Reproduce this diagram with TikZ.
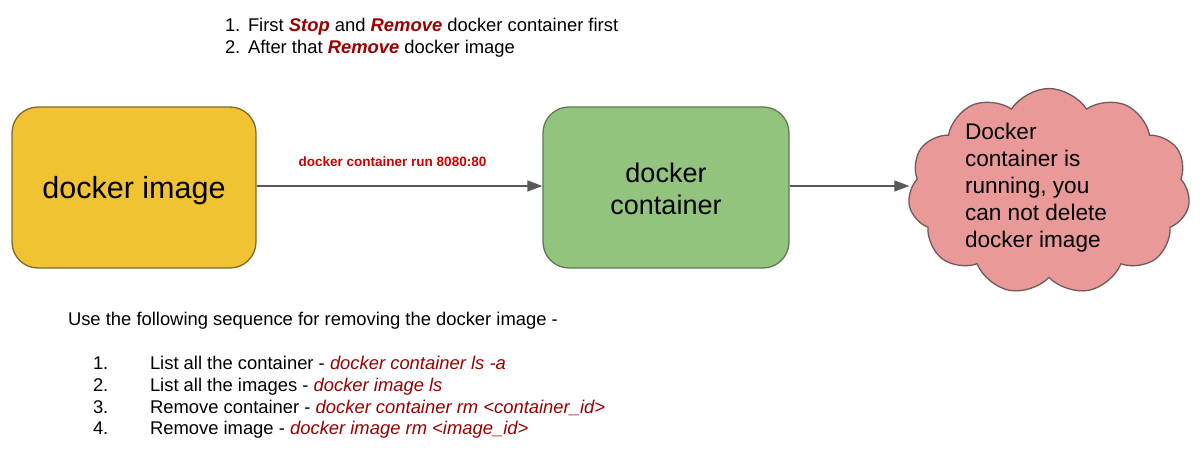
\documentclass[tikz,border=0pt]{standalone}
\usepackage{fontspec}
\setmainfont{Liberation Sans}
\usetikzlibrary{arrows.meta,shapes.symbols}
\definecolor{boxyellow}{HTML}{F1C232}
\definecolor{boxyellowline}{HTML}{7F6A2A}
\definecolor{boxgreen}{HTML}{93C47D}
\definecolor{boxgreenline}{HTML}{5E7A52}
\definecolor{cloudpink}{HTML}{EA9999}
\definecolor{cloudline}{HTML}{6E5A5A}
\definecolor{darkred}{HTML}{990000}
\definecolor{labelred}{HTML}{CC0000}
\definecolor{arrowgray}{HTML}{595959}
\tikzset{
  box/.style={draw, line width=1.3pt, rounded corners=26pt, minimum width=244pt, minimum height=161pt, inner sep=0pt},
  flow/.style={draw=arrowgray, line width=1.4pt, -{Triangle[length=15pt,width=11pt]}},
  plain/.style={inner sep=0pt, outer sep=0pt},
  cmd/.style={text=darkred}
}
\begin{document}
\begin{tikzpicture}[x=1pt,y=-1pt]
\useasboundingbox (0,0) rectangle (1200,452);
% top instructions
\node[plain, anchor=base west, font=\fontsize{18.4}{21.5}\selectfont] (t1n) at (225,32) {1.};
\node[plain, anchor=base west, font=\fontsize{18.4}{21.5}\selectfont] (t1) at (248,32) {First \textcolor{darkred}{\textbf{\textit{Stop}}} and \textcolor{darkred}{\textbf{\textit{Remove}}} docker container first};
\node[plain, anchor=base west, font=\fontsize{18.4}{21.5}\selectfont] (t2n) at (225,53.5) {2.};
\node[plain, anchor=base west, font=\fontsize{18.4}{21.5}\selectfont] (t2) at (248,53.5) {After that \textcolor{darkred}{\textbf{\textit{Remove}}} docker image};
% boxes
\node[box, fill=boxyellow, draw=boxyellowline] (img) at (134,187.5) {};
\node[plain, anchor=base, font=\fontsize{30.5}{36}\selectfont] (imgtxt) at (img.center |- 0,198) {docker image};
\node[box, fill=boxgreen, draw=boxgreenline, minimum width=246pt] (cont) at (666,187.5) {};
\node[plain, anchor=base, font=\fontsize{27}{32}\selectfont] (conttxt1) at (666,182) {docker};
\node[plain, anchor=base, font=\fontsize{27}{32}\selectfont] (conttxt2) at (666,214) {container};
% cloud
\node[cloud, cloud puffs=11, cloud puff arc=115, aspect=1.35, draw=cloudline, fill=cloudpink, line width=1.3pt, minimum width=282pt, minimum height=206pt, inner sep=0pt] (cloud) at (1049,191.5) {};
\node[plain, anchor=base west, align=left, font=\fontsize{22.6}{26.8}\selectfont] (cloudtxt) at (965,247) {Docker\\container is\\running, you\\can not delete\\docker image};
% arrows
\draw[flow] (img.east |- 0,186) -- node[plain, above=19pt, xshift=-7pt, font=\fontsize{13.5}{16}\selectfont\bfseries, text=labelred] (lbl) {docker container run 8080:80} (cont.west |- 0,186);
\draw[flow] (cont.east |- 0,186) -- (cloud.west |- 0,186);
% bottom instructions
\node[plain, anchor=base west, font=\fontsize{18.4}{21.7}\selectfont] (use) at (68,325) {Use the following sequence for removing the docker image -};
\begin{scope}[every node/.style={plain, anchor=base west, font=\fontsize{18.4}{21.7}\selectfont}]
\node (n1) at (93,369) {1.};
\node (l1) at (150,369) {List all the container - \textcolor{darkred}{\textit{docker container ls -a}}};
\node (n2) at (93,391) {2.};
\node (l2) at (150,391) {List all the images - \textcolor{darkred}{\textit{docker image ls}}};
\node (n3) at (93,413) {3.};
\node (l3) at (150,413) {Remove container - \textcolor{darkred}{\textit{docker container rm <container\_id>}}};
\node (n4) at (93,434.5) {4.};
\node (l4) at (150,434.5) {Remove image - \textcolor{darkred}{\textit{docker image rm <image\_id>}}};
\end{scope}
\end{tikzpicture}
\end{document}
